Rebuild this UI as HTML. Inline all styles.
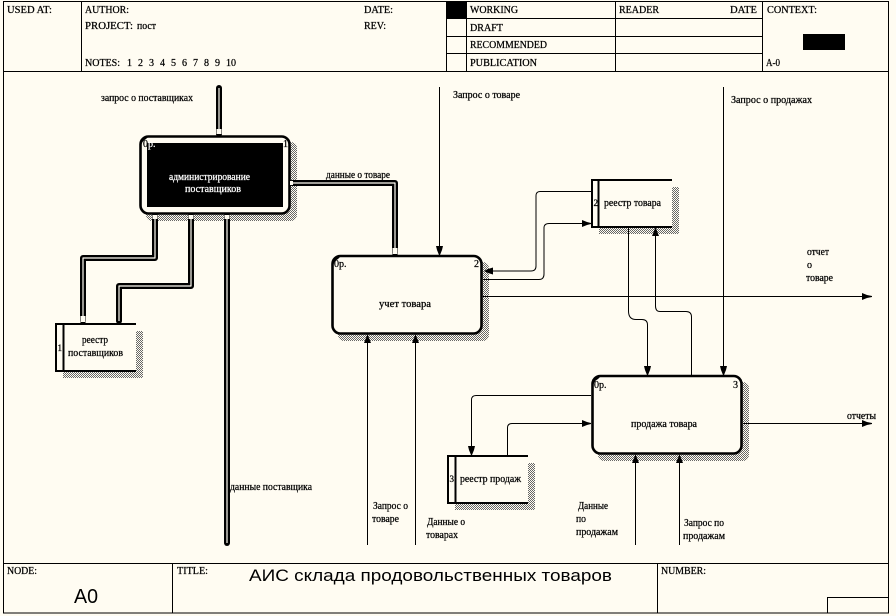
<!DOCTYPE html>
<html><head><meta charset="utf-8">
<style>
html,body{margin:0;padding:0;background:#fffcf2;width:896px;height:616px;overflow:hidden}
svg{display:block}
text{font-family:"Liberation Serif",serif;font-size:10px;fill:#000;stroke:#000;stroke-width:.25}
.s{font-family:"Liberation Sans",sans-serif;stroke:none}
.w{fill:#fff;stroke:#fff}
.l{stroke:#000;fill:none;stroke-width:1}
.d{stroke:#000;fill:none;stroke-width:6;stroke-linejoin:round;stroke-linecap:round}
.c{stroke:#fffcf2;fill:none;stroke-width:1.2;stroke-linejoin:round}
.b{fill:#fffcf2;stroke:#000;stroke-width:2.6}
.f{fill:#000;stroke:none}
</style></head><body>
<svg width="896" height="616" viewBox="0 0 896 616" xmlns="http://www.w3.org/2000/svg">
<defs><pattern id="dz" width="2" height="2" patternUnits="userSpaceOnUse"><rect width="2" height="2" fill="#fffcf2"/><rect width="1" height="1" fill="#666"/><rect x="1" y="1" width="1" height="1" fill="#666"/></pattern></defs>
<rect width="896" height="616" fill="#fffcf2"/>

<!-- frame -->
<g stroke="#000" stroke-width="1" fill="none" shape-rendering="crispEdges">
<rect x="3.5" y="1.5" width="885" height="611.5"/>
<path d="M3 71.5H889M81.5 1V71M446.5 1V71M466.5 1V71M615.5 1V71M762.5 1V71M447 18.5H762M447 36.5H762M447 53.5H762M3 563.5H889M172.5 563V613M657.5 563V613M827.5 597V613M827 597.5H889"/>
</g>
<rect x="447" y="2" width="19" height="16" fill="#000"/>
<rect x="803" y="34" width="42" height="16" fill="#000"/>

<!-- header text -->
<text x="7" y="13" textLength="45" lengthAdjust="spacingAndGlyphs">USED AT:</text>
<text x="85" y="13" textLength="44" lengthAdjust="spacingAndGlyphs">AUTHOR:</text>
<text x="85" y="29" textLength="48" lengthAdjust="spacingAndGlyphs">PROJECT:</text>
<text x="137" y="29" textLength="19" lengthAdjust="spacingAndGlyphs">пост</text>
<text x="85" y="66" textLength="35" lengthAdjust="spacingAndGlyphs">NOTES:</text>
<text x="127" y="66">1</text><text x="138" y="66">2</text><text x="149" y="66">3</text><text x="160" y="66">4</text><text x="171" y="66">5</text><text x="182" y="66">6</text><text x="193" y="66">7</text><text x="204" y="66">8</text><text x="215" y="66">9</text><text x="226" y="66">10</text>
<text x="364" y="13" textLength="29" lengthAdjust="spacingAndGlyphs">DATE:</text>
<text x="364" y="29" textLength="22" lengthAdjust="spacingAndGlyphs">REV:</text>
<text x="470" y="13" textLength="48" lengthAdjust="spacingAndGlyphs">WORKING</text>
<text x="470" y="31" textLength="33" lengthAdjust="spacingAndGlyphs">DRAFT</text>
<text x="470" y="48" textLength="77" lengthAdjust="spacingAndGlyphs">RECOMMENDED</text>
<text x="470" y="66" textLength="67" lengthAdjust="spacingAndGlyphs">PUBLICATION</text>
<text x="619" y="13" textLength="40" lengthAdjust="spacingAndGlyphs">READER</text>
<text x="730" y="13" textLength="27" lengthAdjust="spacingAndGlyphs">DATE</text>
<text x="767" y="13" textLength="50" lengthAdjust="spacingAndGlyphs">CONTEXT:</text>
<text x="766" y="66" textLength="14" lengthAdjust="spacingAndGlyphs">A-0</text>

<!-- footer text -->
<text x="7" y="574" textLength="30" lengthAdjust="spacingAndGlyphs">NODE:</text>
<text x="177" y="574" textLength="31" lengthAdjust="spacingAndGlyphs">TITLE:</text>
<text x="661" y="574" textLength="45" lengthAdjust="spacingAndGlyphs">NUMBER:</text>
<text class="s" x="74" y="603" style="font-size:20px" textLength="24" lengthAdjust="spacingAndGlyphs">A0</text>
<text class="s" x="249" y="581" style="font-size:17px" textLength="363" lengthAdjust="spacingAndGlyphs">АИС склада продовольственных товаров</text>

<!-- shadows -->
<rect x="146" y="142" width="151" height="79" rx="6" fill="url(#dz)"/>
<rect x="338" y="262" width="151" height="79" rx="6" fill="url(#dz)"/>
<rect x="598" y="382" width="151" height="79" rx="6" fill="url(#dz)"/>
<rect x="63" y="331" width="80" height="47" fill="url(#dz)"/>
<rect x="599" y="187" width="80" height="47" fill="url(#dz)"/>
<rect x="455" y="463" width="80" height="47" fill="url(#dz)"/>

<!-- boxes -->
<rect class="b" x="140.500" y="136.500" width="149" height="77" rx="8"/>
<rect x="147" y="143" width="136" height="64" fill="#000"/>
<rect class="b" x="332.500" y="256" width="149" height="77.500" rx="8"/>
<rect class="b" x="592.500" y="376" width="149" height="77.500" rx="8"/>
<path d="M140 145Q141 137 149 136L146 139Q142 141 141 146Z M332 265Q333 257 341 256L338 259Q334 261 333 266Z M592 385Q593 377 601 376L598 379Q594 381 593 386Z" fill="#000"/>

<!-- stores -->
<g>
<rect x="56" y="324" width="80" height="47" fill="#fffcf2"/>
<path d="M136 324H56V371H136M63.500 324V371" fill="none" stroke="#000" stroke-width="2"/>
<rect x="592" y="180" width="80" height="47" fill="#fffcf2"/>
<path d="M672 180H592V227H672M598.500 180V227" fill="none" stroke="#000" stroke-width="2"/>
<rect x="448" y="456" width="80" height="47" fill="#fffcf2"/>
<path d="M528 456H448V503H528M455.500 456V503" fill="none" stroke="#000" stroke-width="2"/>
</g>

<!-- double arrows -->
<path class="d" d="M219 88V134"/>
<path class="d" d="M155 216V258H83V321"/>
<path class="d" d="M191 216V286H119V321"/>
<path class="d" d="M227 216V543"/>
<path class="d" d="M292 183H395V253"/>
<path class="c" d="M219 88V134"/>
<path class="c" d="M155 216V258H83V321"/>
<path class="c" d="M191 216V286H119V321"/>
<path class="c" d="M227 216V543"/>
<path class="c" d="M292 183H395V253"/>
<g fill="#fffcf2" stroke="none">
<rect x="216.500" y="129" width="5" height="5"/>
<rect x="152.500" y="215" width="5" height="4"/>
<rect x="188.500" y="215" width="5" height="4"/>
<rect x="224.500" y="215" width="5" height="4"/>
<rect x="80.500" y="316" width="5" height="6"/>
<rect x="392.500" y="248" width="5" height="6"/>
<rect x="290" y="181" width="3" height="4"/>
</g>

<!-- thin connectors -->
<g class="l" shape-rendering="crispEdges">
<path d="M439.500 87V248"/>
<path d="M723.500 87V368"/>
<path d="M483 296.500H866"/>
<path d="M743 423.500H866"/>
<path d="M367.500 545V342"/>
<path d="M415.500 545V342"/>
<path d="M635.500 545V462"/>
<path d="M679.500 545V462"/>
</g>
<g class="l">
<path d="M591 191.500H540Q536 191.500 536 196V266Q536 271 531 271H490"/>
<path d="M483 279.500H539Q544 279.500 544 274V228Q544 223.500 549 223.500H584"/>
<path d="M628.500 227V311Q628.500 319.500 636 319.500H642Q647.500 319.500 647.500 325V368"/>
<path d="M691.500 375V317Q691.500 311.500 686 311.500H660Q655.500 311.500 655.500 306V235"/>
<path d="M591 395.500H476Q471.500 395.500 471.500 400V448"/>
<path d="M507.500 455V428Q507.500 423.500 512 423.500H584"/>
</g>

<!-- arrowheads -->
<g class="f">
<path d="M436 246H443L442 250L440 255H439L437 250Z"/>
<path d="M720 366H727L726 370L724 375H723L721 370Z"/>
<path d="M644 366H651L650 370L648 375H647L645 370Z"/>
<path d="M468 446H475L474 450L472 455H471L469 450Z"/>
<path d="M367.500 334L369 338L371 343H364L366 338Z"/>
<path d="M415.500 334L417 338L419 343H412L414 338Z"/>
<path d="M635.500 454L637 458L639 463H632L634 458Z"/>
<path d="M679.500 454L681 458L683 463H676L678 458Z"/>
<path d="M655.500 227L657 231L659 236H652L654 231Z"/>
<path d="M484 271L488 269L493 267.500V274.500L488 273Z"/>
<path d="M582 220V227L587 225L591 224V223L587 222Z"/>
<path d="M582 420V427L587 425L591 424V423L587 422Z"/>
<path d="M862 293V300L867 298L872 297V296L867 295Z"/>
<path d="M862 420V427L867 425L872 424V423L867 422Z"/>
</g>

<!-- labels -->
<text x="101" y="101" textLength="92" lengthAdjust="spacingAndGlyphs">запрос о поставщиках</text>
<text x="453" y="98" textLength="67" lengthAdjust="spacingAndGlyphs">Запрос о товаре</text>
<text x="731" y="103" textLength="81" lengthAdjust="spacingAndGlyphs">Запрос о продажах</text>
<text x="326" y="178" textLength="64" lengthAdjust="spacingAndGlyphs">данные о товаре</text>
<text class="w" x="169" y="180" textLength="81" lengthAdjust="spacingAndGlyphs">администрирование</text>
<text class="w" x="185" y="192" textLength="56" lengthAdjust="spacingAndGlyphs">поставщиков</text>
<text x="143" y="147">0</text><text class="w" x="148" y="147">р.</text>
<text x="283" y="147">1</text>
<text x="82" y="343" textLength="26" lengthAdjust="spacingAndGlyphs">реестр</text>
<text x="68" y="356" textLength="55" lengthAdjust="spacingAndGlyphs">поставщиков</text>
<text x="57.500" y="351" style="font-size:9px">1</text>
<text x="593.500" y="206" style="font-size:9px">2</text>
<text x="604" y="206" textLength="57" lengthAdjust="spacingAndGlyphs">реестр товара</text>
<text x="334" y="267">0р.</text>
<text x="474" y="267">2</text>
<text x="379" y="307" textLength="52" lengthAdjust="spacingAndGlyphs">учет  товара</text>
<text x="594" y="388">0р.</text>
<text x="733" y="388">3</text>
<text x="631" y="427" textLength="66" lengthAdjust="spacingAndGlyphs">продажа товара</text>
<text x="449.500" y="482" style="font-size:9px">3</text>
<text x="460" y="482" textLength="61" lengthAdjust="spacingAndGlyphs">реестр продаж</text>
<text x="807" y="255" textLength="22" lengthAdjust="spacingAndGlyphs">отчет</text>
<text x="807" y="268">о</text>
<text x="806" y="281" textLength="27" lengthAdjust="spacingAndGlyphs">товаре</text>
<text x="847" y="419" textLength="29" lengthAdjust="spacingAndGlyphs">отчеты</text>
<text x="230" y="490" textLength="82" lengthAdjust="spacingAndGlyphs">данные поставщика</text>
<text x="373" y="509" textLength="35" lengthAdjust="spacingAndGlyphs">Запрос о</text>
<text x="372" y="522" textLength="27" lengthAdjust="spacingAndGlyphs">товаре</text>
<text x="427" y="525" textLength="38" lengthAdjust="spacingAndGlyphs">Данные о</text>
<text x="426" y="538" textLength="32" lengthAdjust="spacingAndGlyphs">товарах</text>
<text x="578" y="509" textLength="30" lengthAdjust="spacingAndGlyphs">Данные</text>
<text x="576" y="522" textLength="10" lengthAdjust="spacingAndGlyphs">по</text>
<text x="576" y="535" textLength="42" lengthAdjust="spacingAndGlyphs">продажам</text>
<text x="684" y="526" textLength="40" lengthAdjust="spacingAndGlyphs">Запрос по</text>
<text x="683" y="539" textLength="42" lengthAdjust="spacingAndGlyphs">продажам</text>
</svg>
</body></html>
